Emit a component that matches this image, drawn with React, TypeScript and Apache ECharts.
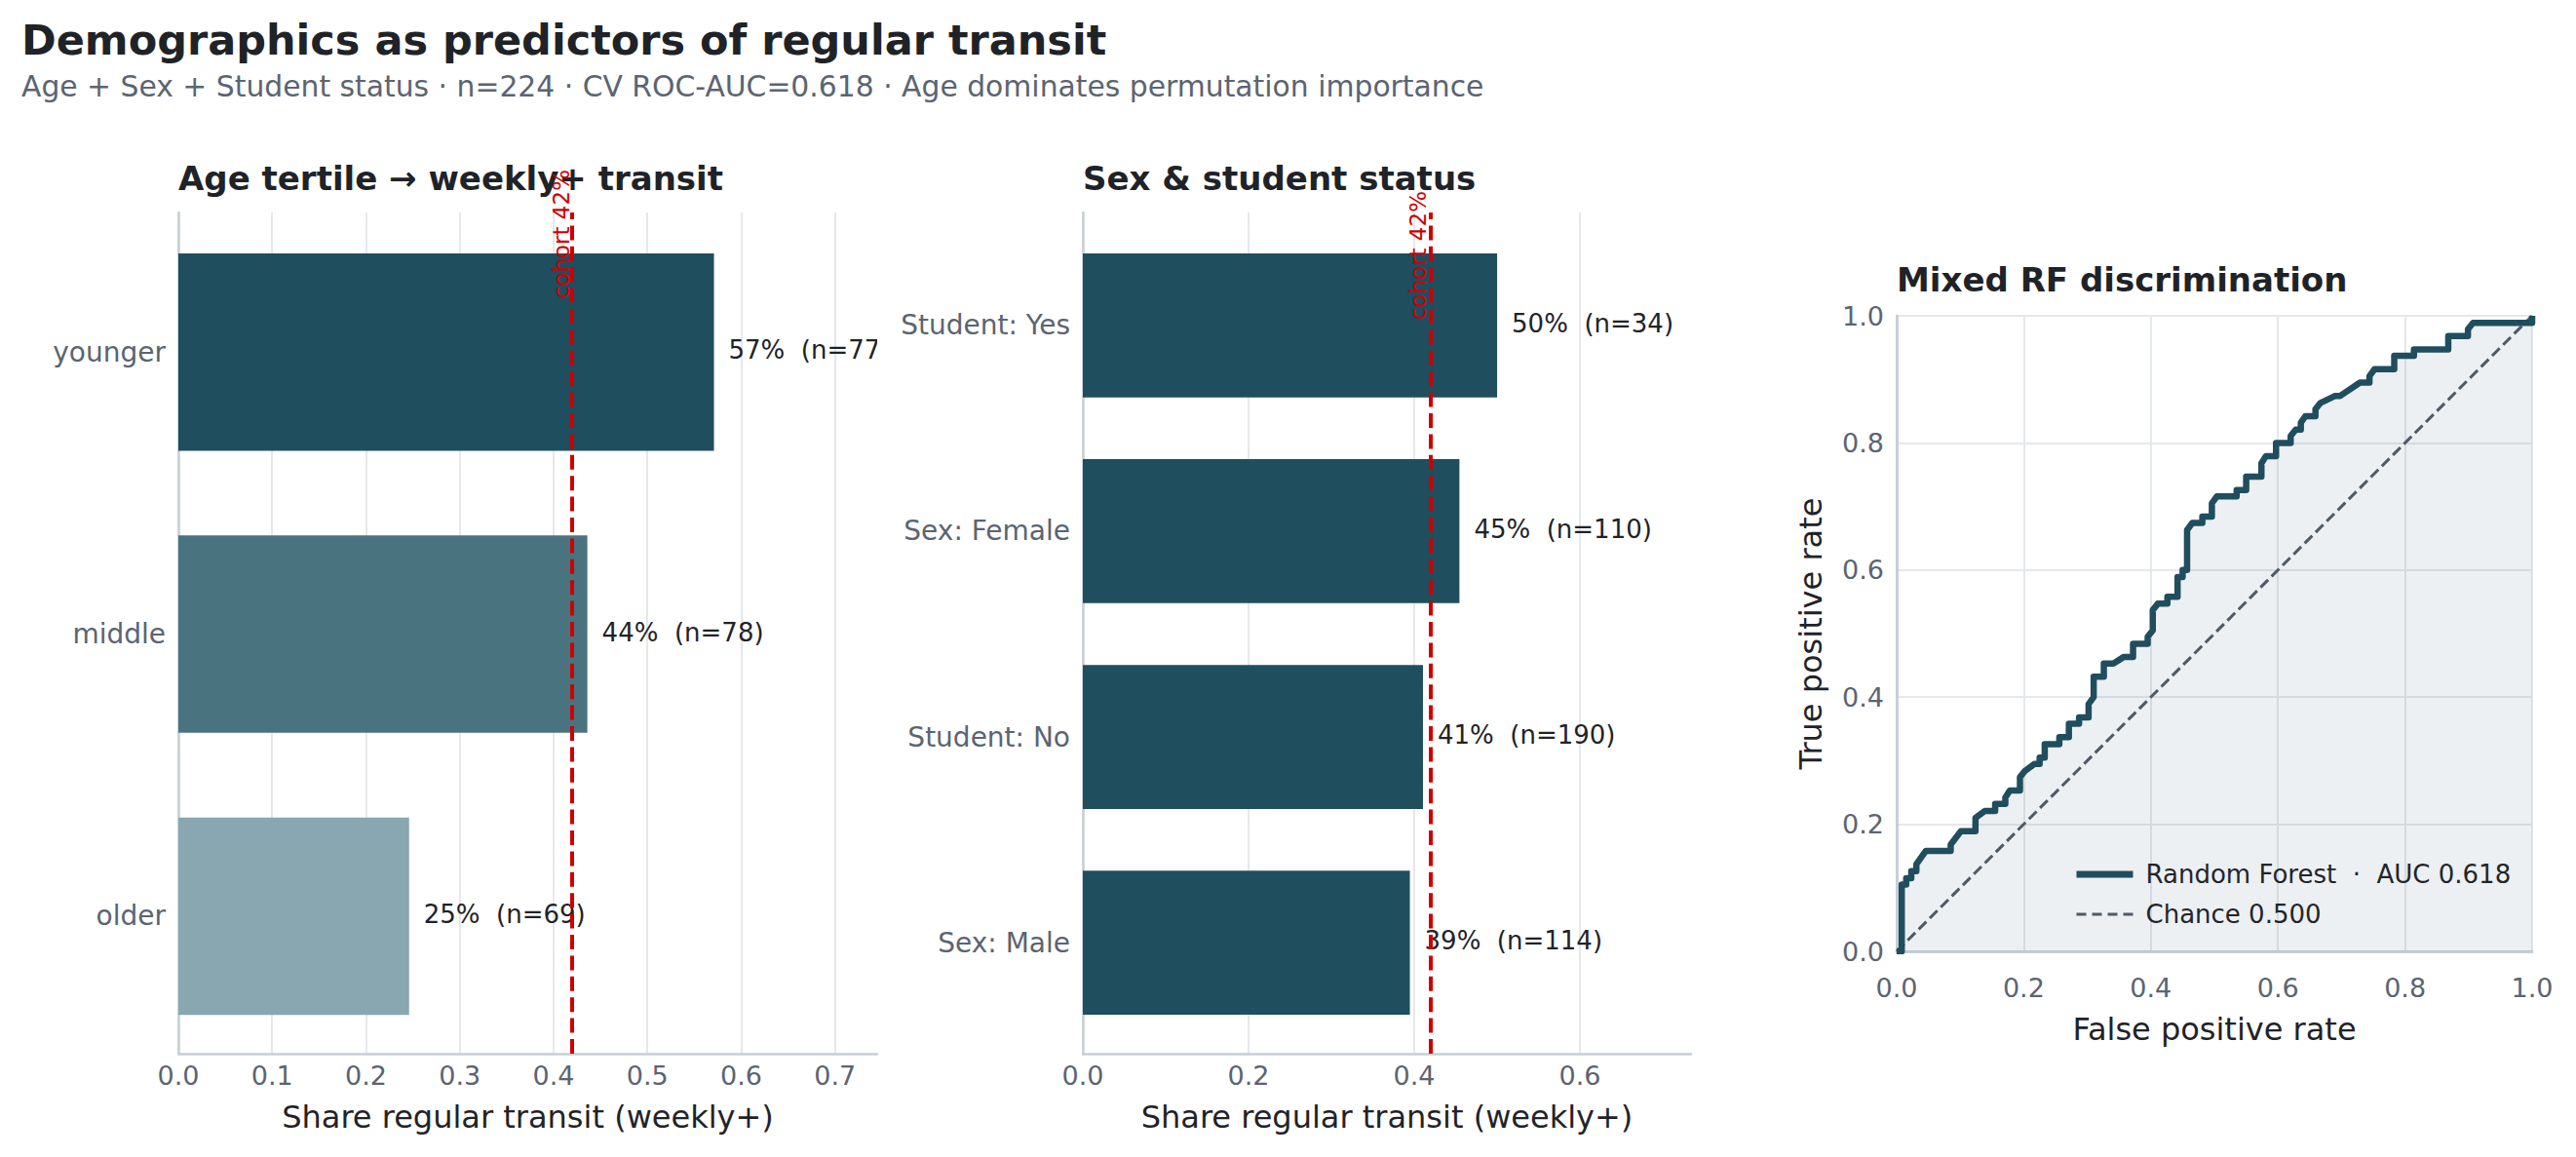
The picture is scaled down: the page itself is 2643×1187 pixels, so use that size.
import React, { useEffect, useRef } from "react";
import * as echarts from "echarts";

// ---------- data ----------
const ageCategories = ["younger", "middle", "older"];
const ageShare = [0.571, 0.436, 0.246];
const ageN = [77, 78, 69];
const ageColors = ["#1f4e5f", "#4a7380", "#88a7b1"];

const groupCategories = ["Student: Yes", "Sex: Female", "Student: No", "Sex: Male"];
const groupShare = [0.5, 0.4545, 0.4105, 0.3947];
const groupN = [34, 110, 190, 114];

const cohortShare = 0.424;

const ageTicks = [0, 0.1, 0.2, 0.3, 0.4, 0.5, 0.6, 0.7];
const groupTicks = [0, 0.2, 0.4, 0.6];
const rocTicks = [0, 0.2, 0.4, 0.6, 0.8, 1.0];

const rfAuc = 0.618;
const chanceAuc = 0.5;

const rocFpr = [
  0, 0.008, 0.008, 0.015, 0.015, 0.023, 0.023, 0.031, 0.031, 0.046, 0.085, 0.085, 0.101, 0.124, 0.124,
  0.139, 0.155, 0.155, 0.171, 0.171, 0.178, 0.194, 0.194, 0.202, 0.217, 0.225, 0.225, 0.233, 0.233,
  0.256, 0.256, 0.271, 0.271, 0.287, 0.287, 0.302, 0.302, 0.31, 0.31, 0.326, 0.326, 0.341, 0.357,
  0.372, 0.372, 0.395, 0.395, 0.403, 0.403, 0.411, 0.426, 0.426, 0.442, 0.442, 0.45, 0.45, 0.457,
  0.457, 0.465, 0.481, 0.481, 0.496, 0.496, 0.504, 0.535, 0.535, 0.55, 0.55, 0.574, 0.574, 0.581,
  0.597, 0.597, 0.62, 0.62, 0.628, 0.636, 0.636, 0.643, 0.659, 0.659, 0.667, 0.69, 0.698, 0.729,
  0.744, 0.744, 0.752, 0.783, 0.783, 0.814, 0.814, 0.868, 0.868, 0.899, 0.899, 0.907, 1.0, 1.0,
];
const rocTpr = [
  0, 0, 0.105, 0.105, 0.115, 0.115, 0.126, 0.126, 0.137, 0.158, 0.158, 0.168, 0.189, 0.189, 0.21,
  0.221, 0.221, 0.232, 0.232, 0.242, 0.253, 0.253, 0.274, 0.284, 0.295, 0.295, 0.305, 0.305, 0.326,
  0.326, 0.337, 0.337, 0.358, 0.358, 0.368, 0.368, 0.389, 0.4, 0.432, 0.432, 0.453, 0.453, 0.463,
  0.463, 0.484, 0.484, 0.495, 0.505, 0.537, 0.547, 0.547, 0.558, 0.558, 0.589, 0.589, 0.6, 0.6,
  0.663, 0.674, 0.674, 0.684, 0.684, 0.705, 0.716, 0.716, 0.726, 0.726, 0.747, 0.747, 0.768, 0.779,
  0.779, 0.8, 0.8, 0.811, 0.821, 0.821, 0.832, 0.842, 0.842, 0.853, 0.863, 0.874, 0.874, 0.895,
  0.895, 0.905, 0.916, 0.916, 0.937, 0.937, 0.947, 0.947, 0.968, 0.968, 0.979, 0.989, 0.989, 1.0,
];
const chanceFpr = [0, 1];
const chanceTpr = [0, 1];

const titleText = "Demographics as predictors of regular transit";
const subtitleText =
  "Age + Sex + Student status · n=224 · CV ROC-AUC=0.618 · Age dominates permutation importance";

// ---------- styles ----------
const FONT = "DejaVu Sans";
const DARK = "#1f2328";
const GRAY = "#5b6472";
const GRID = "#e5e8ec";
const SPINE = "#c8ced6";
const RED = "#cc0000";
const TEAL = "#1f4e5f";
const CHANCE = "#525c68";

const fmtPct = (v: number) => `${Math.round(v * 100)}%`;
const ageLabels = ageShare.map((v, i) => `${fmtPct(v)}  (n=${ageN[i]})`);
const groupLabels = groupShare.map((v, i) => `${fmtPct(v)}  (n=${groupN[i]})`);
const rfName = `Random Forest  ·  AUC ${rfAuc.toFixed(3)}`;
const chanceName = `Chance ${chanceAuc.toFixed(3)}`;

function frameXAxis(gridIndex: number, max: number, interval: number, ticks: number[]) {
  return {
    type: "value",
    gridIndex,
    min: ticks[0],
    max,
    interval,
    axisLine: { show: true, onZero: false, lineStyle: { color: SPINE, width: 2.5 } },
    axisTick: { show: false },
    axisLabel: {
      show: true,
      showMaxLabel: false,
      margin: 9,
      fontSize: 27,
      color: GRAY,
      fontFamily: FONT,
      formatter: (v: number) => v.toFixed(1),
    },
    splitLine: { show: true, showMaxLine: false, lineStyle: { color: GRID, width: 2 } },
    name: "Share regular transit (weekly+)",
    nameLocation: "middle",
    nameGap: 49,
    nameTextStyle: { fontSize: 32, color: DARK, fontFamily: FONT },
  };
}

function frameYAxis(gridIndex: number) {
  return {
    type: "value",
    gridIndex,
    min: 0,
    max: 1,
    axisLine: { show: true, onZero: false, lineStyle: { color: SPINE, width: 2.5 } },
    axisTick: { show: false },
    axisLabel: { show: false },
    splitLine: { show: false },
  };
}

function barXAxis(gridIndex: number, max: number) {
  return { type: "value", gridIndex, min: 0, max, show: false };
}

function barYAxis(gridIndex: number, cats: string[]) {
  return {
    type: "category",
    gridIndex,
    data: cats,
    inverse: true,
    axisLine: { show: false },
    axisTick: { show: false },
    splitLine: { show: false },
    axisLabel: { margin: 13, fontSize: 28, color: GRAY, fontFamily: FONT },
  };
}

function labelSeries(axisIndex: number, shares: number[], labels: string[]) {
  return {
    type: "custom",
    xAxisIndex: axisIndex,
    yAxisIndex: axisIndex,
    clip: true,
    z: 4,
    silent: true,
    data: shares.map((v, i) => [v, i]),
    renderItem: (params: any, api: any) => {
      const pt = api.coord([api.value(0), api.value(1)]);
      return {
        type: "text",
        x: pt[0] + 15,
        y: pt[1] - 2,
        style: {
          text: labels[params.dataIndex],
          fill: DARK,
          fontSize: 26,
          fontFamily: FONT,
          align: "left",
          verticalAlign: "middle",
          textAlign: "left",
          textVerticalAlign: "middle",
        },
      };
    },
  };
}

function cohortSeries(axisIndex: number, along: number, perp: number) {
  return {
    type: "line",
    xAxisIndex: axisIndex,
    yAxisIndex: axisIndex,
    data: [],
    silent: true,
    z: 5,
    markLine: {
      silent: true,
      symbol: "none",
      animation: false,
      lineStyle: { color: RED, type: [15, 6.4], width: 4 },
      label: {
        show: true,
        position: "insideEndTop",
        formatter: `cohort ${fmtPct(cohortShare)}`,
        color: RED,
        fontSize: 23,
        fontFamily: FONT,
        distance: [along, perp],
      },
      data: [{ xAxis: cohortShare }],
    },
  };
}

function rocAxis(isX: boolean) {
  return {
    type: "value",
    gridIndex: 4,
    min: rocTicks[0],
    max: rocTicks[rocTicks.length - 1],
    interval: 0.2,
    axisLine: { show: true, onZero: false, lineStyle: { color: SPINE, width: 3 } },
    axisTick: { show: false },
    axisLabel: {
      margin: isX ? 24 : 13,
      fontSize: 27,
      color: GRAY,
      fontFamily: FONT,
      formatter: (v: number) => v.toFixed(1),
    },
    splitLine: { show: true, lineStyle: { color: GRID, width: 2 } },
    name: isX ? "False positive rate" : "True positive rate",
    nameLocation: "middle",
    nameGap: isX ? 64 : 72,
    nameTextStyle: { fontSize: 32, color: DARK, fontFamily: FONT },
  };
}

function textEl(x: number, y: number, text: string, size: number, color: string, bold: boolean) {
  return {
    type: "text",
    x,
    y,
    z: 1,
    style: {
      text,
      fill: color,
      fontSize: size,
      fontWeight: bold ? "bold" : "normal",
      fontFamily: FONT,
      align: "left",
      verticalAlign: "middle",
      textAlign: "left",
      textVerticalAlign: "middle",
    },
  };
}

export default function App() {
  const ref = useRef<HTMLDivElement>(null);

  useEffect(() => {
    if (!ref.current) return;
    const chart = echarts.init(ref.current, undefined, { renderer: "svg" });

    const option: any = {
      animation: false,
      backgroundColor: "#ffffff",
      textStyle: { fontFamily: FONT },
      grid: [
        { left: 183, top: 218, width: 717, height: 863, outerBoundsMode: "none" },
        { left: 183, top: 216.6, width: 717, height: 868, outerBoundsMode: "none" },
        { left: 1111, top: 218, width: 624, height: 863, outerBoundsMode: "none" },
        { left: 1111, top: 228.3, width: 624, height: 844.4, outerBoundsMode: "none" },
        { left: 1946, top: 324, width: 652, height: 652, outerBoundsMode: "none" },
      ],
      xAxis: [
        frameXAxis(0, 0.745, 0.1, ageTicks),
        barXAxis(1, 0.745),
        frameXAxis(2, 0.734, 0.2, groupTicks),
        barXAxis(3, 0.734),
        rocAxis(true),
      ],
      yAxis: [
        frameYAxis(0),
        barYAxis(1, ageCategories),
        frameYAxis(2),
        barYAxis(3, groupCategories),
        rocAxis(false),
      ],
      legend: {
        show: true,
        data: [
          { name: rfName, lineStyle: { color: TEAL, width: 7 } },
          { name: chanceName, lineStyle: { color: CHANCE, width: 3, type: [10, 6] } },
        ],
        orient: "vertical",
        left: 2127,
        top: 884,
        padding: 0,
        itemWidth: 58,
        itemHeight: 14,
        itemGap: 15,
        selectedMode: false,
        itemStyle: { color: "rgba(0,0,0,0)", borderWidth: 0, opacity: 0 },
        textStyle: { fontSize: 26, color: DARK, fontFamily: FONT, padding: [0, 0, 0, 8] },
      },
      series: [
        {
          type: "bar",
          xAxisIndex: 1,
          yAxisIndex: 1,
          barWidth: "70%",
          silent: true,
          z: 3,
          data: ageShare.map((v, i) => ({ value: v, itemStyle: { color: ageColors[i] } })),
        },
        labelSeries(1, ageShare, ageLabels),
        cohortSeries(0, -44, 0),
        {
          type: "bar",
          xAxisIndex: 3,
          yAxisIndex: 3,
          barWidth: "70%",
          silent: true,
          z: 3,
          itemStyle: { color: TEAL },
          data: groupShare,
        },
        labelSeries(3, groupShare, groupLabels),
        cohortSeries(2, -22, 1.5),
        {
          type: "line",
          name: rfName,
          xAxisIndex: 4,
          yAxisIndex: 4,
          symbol: "none",
          showSymbol: false,
          z: 4,
          lineStyle: { color: TEAL, width: 6.5, join: "round" },
          itemStyle: { color: TEAL },
          areaStyle: { color: "rgba(31,78,95,0.12)" },
          data: rocFpr.map((x, i) => [x, rocTpr[i]]),
        },
        {
          type: "line",
          name: chanceName,
          xAxisIndex: 4,
          yAxisIndex: 4,
          symbol: "none",
          showSymbol: false,
          z: 3,
          lineStyle: { color: CHANCE, width: 3, type: [11, 5] },
          itemStyle: { color: CHANCE },
          data: chanceFpr.map((x, i) => [x, chanceTpr[i]]),
        },
      ],
      graphic: [
        textEl(22, 41, titleText, 43, DARK, true),
        textEl(22, 88.5, subtitleText, 29.8, GRAY, false),
        textEl(183, 182.5, "Age tertile → weekly+ transit", 34, DARK, true),
        textEl(1111, 182.5, "Sex & student status", 34, DARK, true),
        textEl(1946, 286.5, "Mixed RF discrimination", 34, DARK, true),
      ],
    };

    chart.setOption(option);
    return () => chart.dispose();
  }, []);

  return (
    <div
      ref={ref}
      style={{ position: "absolute", left: 0, top: 0, width: 2643, height: 1187, background: "#ffffff" }}
    />
  );
}
